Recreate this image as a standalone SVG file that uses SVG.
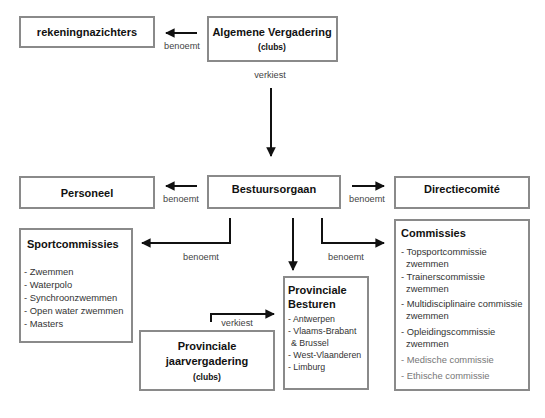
<svg xmlns="http://www.w3.org/2000/svg" width="545" height="418" viewBox="0 0 545 418">
<style>
.box{fill:#fff;stroke:#8a8a8a;stroke-width:2}
.t{font-family:"Liberation Sans",Arial,sans-serif;font-weight:bold;fill:#111}
.h{font-size:11px}
.s{font-size:8.5px}
.lab{font-family:"Liberation Sans",Arial,sans-serif;font-size:9.2px;fill:#444}
.li{font-family:"Liberation Sans",Arial,sans-serif;font-size:9.4px;fill:#333}
.pb{font-size:8.8px}
.lg{fill:#777}
.c{fill:none;stroke:#111;stroke-width:2}
</style>
<defs>
<marker id="ah" viewBox="0 0 10 10" refX="9" refY="5" markerWidth="4.8" markerHeight="4.8" orient="auto" markerUnits="strokeWidth">
<path d="M0,0 L10,5 L0,10 z" fill="#111"/>
</marker>
</defs>
<rect width="545" height="418" fill="#fff"/>
<g id="connectors">
<line class="c" x1="197" y1="33" x2="166" y2="33" marker-end="url(#ah)"/>
<line class="c" x1="271" y1="88" x2="271" y2="156" marker-end="url(#ah)"/>
<line class="c" x1="197" y1="186" x2="166" y2="186" marker-end="url(#ah)"/>
<line class="c" x1="352" y1="186" x2="384" y2="186" marker-end="url(#ah)"/>
<polyline class="c" points="230,218 230,243 142,243" marker-end="url(#ah)"/>
<line class="c" x1="293" y1="218" x2="293" y2="270" marker-end="url(#ah)"/>
<polyline class="c" points="322,218 322,243 384,243" marker-end="url(#ah)"/>
<polyline class="c" points="211,322 211,314 274,314" marker-end="url(#ah)"/>
<text class="lab" x="182" y="49" text-anchor="middle">benoemt</text>
<text class="lab" x="270" y="78" text-anchor="middle">verkiest</text>
<text class="lab" x="181" y="202" text-anchor="middle">benoemt</text>
<text class="lab" x="367" y="202" text-anchor="middle">benoemt</text>
<text class="lab" x="201" y="260" text-anchor="middle">benoemt</text>
<text class="lab" x="346" y="260" text-anchor="middle">benoemt</text>
<text class="lab" x="237" y="326" text-anchor="middle">verkiest</text>
</g>
<g id="rekeningnazichters">
<rect class="box" x="20" y="17" width="134" height="30"/>
<text class="t h" x="87" y="36" text-anchor="middle">rekeningnazichters</text>
</g>
<g id="algemene-vergadering">
<rect class="box" x="208" y="17" width="129" height="44"/>
<text class="t h" x="272" y="36" text-anchor="middle">Algemene Vergadering</text>
<text class="t s" x="272" y="50" text-anchor="middle">(clubs)</text>
</g>
<g id="personeel">
<rect class="box" x="20" y="177" width="134" height="31"/>
<text class="t h" x="87" y="197" text-anchor="middle">Personeel</text>
</g>
<g id="bestuursorgaan">
<rect class="box" x="208" y="176" width="132" height="32"/>
<text class="t h" x="274" y="193" text-anchor="middle">Bestuursorgaan</text>
</g>
<g id="directiecomite">
<rect class="box" x="395" y="177" width="134" height="31"/>
<text class="t h" x="462" y="193" text-anchor="middle">Directiecomité</text>
</g>
<g id="sportcommissies">
<rect class="box" x="20" y="229" width="112" height="113"/>
<text class="t h" x="27" y="248">Sportcommissies</text>
<text class="li" x="24" y="275">- Zwemmen</text>
<text class="li" x="24" y="288">- Waterpolo</text>
<text class="li" x="24" y="301">- Synchroonzwemmen</text>
<text class="li" x="24" y="314">- Open water zwemmen</text>
<text class="li" x="24" y="327">- Masters</text>
</g>
<g id="commissies">
<rect class="box" x="395" y="220" width="134" height="170"/>
<text class="t h" x="401" y="237">Commissies</text>
<text class="li" x="401" y="255">- Topsportcommissie</text>
<text class="li" x="406" y="267">zwemmen</text>
<text class="li" x="401" y="280">- Trainerscommissie</text>
<text class="li" x="406" y="292">zwemmen</text>
<text class="li" x="401" y="307">- Multidisciplinaire commissie</text>
<text class="li" x="406" y="319">zwemmen</text>
<text class="li" x="401" y="335">- Opleidingscommissie</text>
<text class="li" x="406" y="347">zwemmen</text>
<text class="li lg" x="401" y="363">- Medische commissie</text>
<text class="li lg" x="401" y="379">- Ethische commissie</text>
</g>
<g id="provinciale-besturen">
<rect class="box" x="284" y="277" width="84" height="112"/>
<text class="t h" x="288" y="294">Provinciale</text>
<text class="t h" x="288" y="308">Besturen</text>
<text class="li pb" x="288" y="322">- Antwerpen</text>
<text class="li pb" x="288" y="334">- Vlaams-Brabant</text>
<text class="li pb" x="291" y="346">&amp; Brussel</text>
<text class="li pb" x="288" y="358">- West-Vlaanderen</text>
<text class="li pb" x="288" y="370">- Limburg</text>
</g>
<g id="provinciale-jaarvergadering">
<rect class="box" x="140" y="331" width="134" height="59"/>
<text class="t h" x="207" y="350" text-anchor="middle">Provinciale</text>
<text class="t h" x="207" y="365" text-anchor="middle">jaarvergadering</text>
<text class="t s" x="207" y="380" text-anchor="middle">(clubs)</text>
</g>
</svg>
